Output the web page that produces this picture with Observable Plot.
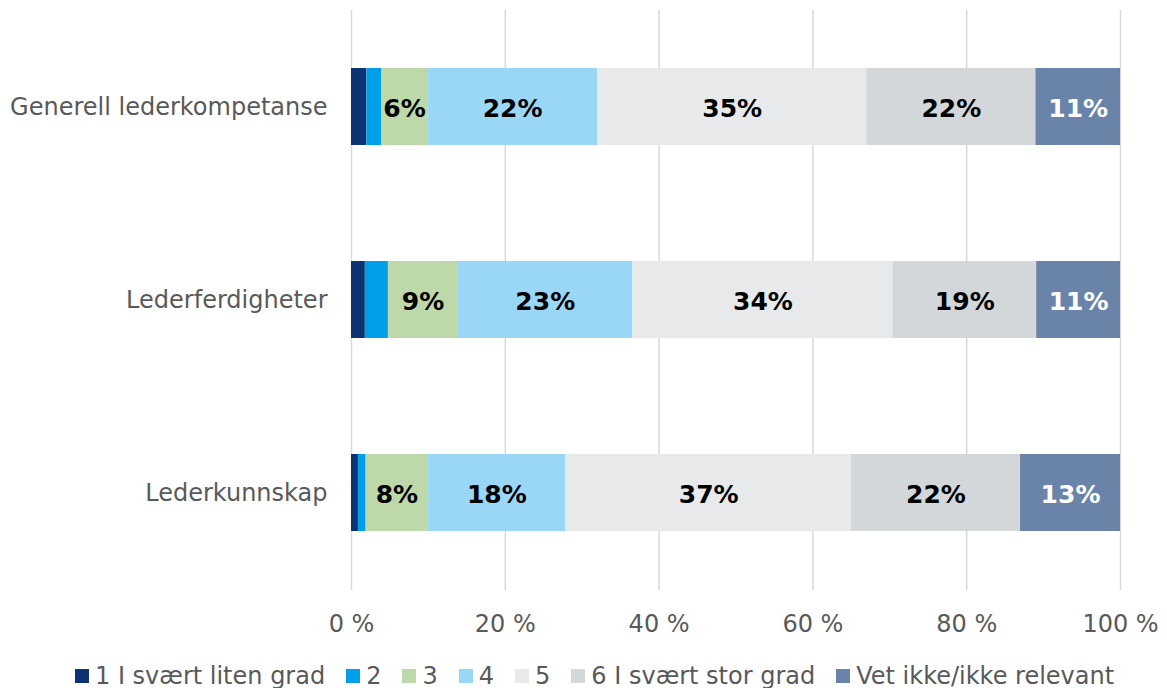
<!DOCTYPE html>
<html>
<head>
<meta charset="utf-8">
<script src="https://cdn.jsdelivr.net/npm/d3@7"></script>
<script src="https://cdn.jsdelivr.net/npm/@observablehq/plot@0.6"></script>
<style>
  html, body { margin: 0; padding: 0; background: #ffffff; }
  #chart svg { display: block; }
  .legend { display: flex; align-items: center; height: 52px; padding-left: 75px;
    font-family: "DejaVu Sans", Verdana, sans-serif; font-size: 24px; color: #595959; }
  .legend .item { display: flex; align-items: center; margin-right: 21px; white-space: nowrap; }
  .legend .sw { width: 14px; height: 14px; margin-right: 6px; }
</style>
</head>
<body>
<div id="chart"></div>
<div class="legend" id="legend"></div>
<script>
const categories = ["Generell lederkompetanse", "Lederferdigheter", "Lederkunnskap"];
const series = ["1 I svært liten grad", "2", "3", "4", "5", "6 I svært stor grad", "Vet ikke/ikke relevant"];
const colors = ["#0d3472", "#009fe8", "#bdd9a9", "#9ad7f7", "#e8e9eb", "#d3d7da", "#6a84a9"];
const generell = [2.0, 1.9, 6.0, 22.1, 35.0, 22.0, 11.0];
const ferdigheter = [1.8, 3.0, 9.0, 22.8, 33.8, 18.7, 10.9];
const kunnskap = [0.9, 1.0, 8.0, 18.0, 37.1, 22.0, 13.0];
const xTicks = [0, 20, 40, 60, 80, 100];

const valuesByCat = [generell, ferdigheter, kunnskap];
const data = [];
categories.forEach((c, i) => {
  series.forEach((s, j) => data.push({cat: c, series: s, value: valuesByCat[i][j]}));
});
const last = series[series.length - 1];
const label = d => d.value >= 5 ? Math.round(d.value) + "%" : "";

const chart = Plot.plot({
  width: 1167,
  height: 650,
  marginLeft: 351,
  marginRight: 47,
  marginTop: 10,
  marginBottom: 60,
  style: {fontFamily: "\"DejaVu Sans\", Verdana, sans-serif", fontSize: "24px", color: "#595959", background: "#ffffff"},
  x: {domain: [0, 100], ticks: xTicks, tickFormat: d => d + " %", tickSize: 0, tickPadding: 24, label: null},
  y: {domain: categories, paddingInner: 0.6, paddingOuter: 0.3, tickSize: 0, tickPadding: 24, label: null},
  color: {domain: series, range: colors},
  marks: [
    Plot.ruleX(xTicks, {stroke: "#d9d9d9", strokeWidth: 1.5}),
    Plot.barX(data, Plot.stackX({x: "value", y: "cat", z: "series", fill: "series"})),
    Plot.text(data, Plot.stackX({x: "value", y: "cat", z: "series",
      text: d => d.series === last ? "" : label(d),
      fill: "#000000", fontWeight: "bold", fontSize: 25, dy: 2})),
    Plot.text(data, Plot.stackX({x: "value", y: "cat", z: "series",
      text: d => d.series === last ? label(d) : "",
      fill: "#ffffff", fontWeight: "bold", fontSize: 25, dy: 2}))
  ]
});
document.getElementById("chart").appendChild(chart);

const legend = document.getElementById("legend");
series.forEach((s, i) => {
  const item = document.createElement("div");
  item.className = "item";
  const sw = document.createElement("div");
  sw.className = "sw";
  sw.style.background = colors[i];
  const t = document.createElement("span");
  t.textContent = s;
  item.appendChild(sw);
  item.appendChild(t);
  legend.appendChild(item);
});
</script>
</body>
</html>
